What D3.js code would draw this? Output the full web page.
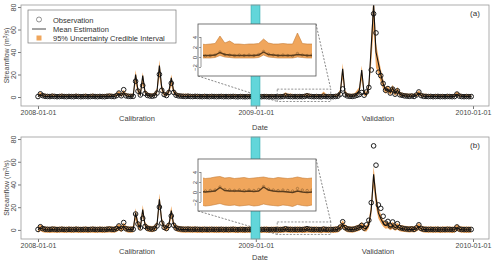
<!DOCTYPE html>
<html>
<head>
<meta charset="utf-8">
<script src="https://cdn.jsdelivr.net/npm/d3@7"></script>
<style>
  body { margin: 0; background: #fff; }
  svg { display: block; font-family: "Liberation Sans", Arial, sans-serif; }
</style>
</head>
<body>
<svg id="chart" width="495" height="261"></svg>
<script>
// observed streamflow, one value every 4 days from 2008-01-01
const obsFlow = [
  0.4,2.8,1.2,0.6,0.5,0.4,0.7,0.5,0.3,0.4,0.6,0.4,0.3,0.5,0.4,0.3,0.6,0.4,0.3,0.4,
  0.5,0.3,0.4,0.6,0.4,0.3,0.5,0.4,0.3,0.6,0.8,0.5,0.4,1.2,3.5,1.1,6.5,1.0,0.6,0.5,
  0.6,14.0,5.2,1.8,10.2,3.1,1.4,0.9,0.7,1.2,3.5,20.1,6.0,2.2,1.3,4.0,12.3,4.1,1.6,1.0,
  0.8,0.6,0.5,0.7,0.5,0.4,0.6,0.5,0.4,0.3,0.5,0.4,0.3,0.5,0.4,0.3,0.4,0.5,0.3,0.4,
  0.3,0.4,0.5,0.3,0.2,0.4,0.3,0.2,0.3,0.4,0.3,0.2,0.3,0.2,0.3,0.4,0.3,0.2,0.3,0.2,
  0.3,0.2,0.3,0.4,1.0,0.5,0.4,0.3,0.4,0.3,0.4,0.3,0.5,1.1,0.6,0.4,0.3,0.4,0.3,0.2,
  0.7,0.4,0.3,0.4,0.3,0.5,0.8,2.5,7.2,2.0,0.9,0.6,0.5,0.8,1.5,2.2,4.0,1.6,4.5,8.5,
  24.0,74.0,57.0,22.0,19.0,12.0,6.0,7.5,3.5,7.0,2.5,5.5,2.0,1.5,1.0,0.8,0.6,0.9,0.5,1.8,
  4.5,1.2,0.6,0.5,0.4,0.5,0.3,0.4,0.5,0.3,0.4,0.3,0.5,0.4,0.3,0.4,2.6,0.8,0.4,0.3,0.4,0.3,0.4
]

// panel (a)
const meanA = [
  0.3,2.0,1.0,0.5,0.4,0.3,0.5,0.4,0.3,0.3,0.4,0.3,0.3,0.4,0.3,0.3,0.4,0.3,0.3,0.3,
  0.4,0.3,0.3,0.4,0.3,0.3,0.4,0.3,0.3,0.4,0.6,0.4,0.4,1.0,3.0,1.0,4.0,1.0,0.5,0.5,
  0.8,20.0,6.0,2.0,19.0,4.0,1.5,1.0,0.8,1.5,5.0,28.0,8.0,2.5,1.5,5.0,17.0,5.0,1.8,1.0,
  0.7,0.5,0.5,0.5,0.4,0.4,0.4,0.4,0.3,0.3,0.4,0.3,0.3,0.4,0.3,0.3,0.3,0.4,0.3,0.3,
  0.3,0.3,0.4,0.3,0.3,0.3,0.3,0.3,0.3,0.3,0.3,0.3,0.3,0.3,0.3,0.3,0.3,0.3,0.3,0.3,
  0.3,0.3,0.3,0.4,0.9,0.5,0.4,0.3,0.3,0.3,0.3,0.3,0.4,1.0,0.5,0.4,0.3,0.3,0.3,0.3,
  0.5,0.4,0.3,0.3,0.3,0.4,0.8,4.0,25.0,3.0,1.0,0.7,0.6,1.0,3.0,6.0,24.0,3.0,2.0,10.0,
  45.0,82.0,40.0,30.0,20.0,12.0,6.0,7.0,4.0,8.0,3.0,6.0,2.5,1.5,1.0,0.8,0.7,0.8,0.6,1.5,
  3.5,1.2,0.6,0.5,0.4,0.4,0.3,0.4,0.4,0.3,0.3,0.3,0.4,0.3,0.3,0.3,2.5,0.8,0.4,0.3,0.3,0.3,0.3
]
const upperA = [
  2.7,4.5,3.2,2.8,2.7,2.6,2.9,2.7,2.6,2.7,2.8,2.6,2.6,2.7,2.6,2.6,2.8,2.6,2.6,2.7,
  2.8,2.6,2.7,2.8,2.6,2.6,2.7,2.6,2.6,2.8,3.0,2.8,2.7,3.6,5.5,3.4,6.5,3.3,2.9,2.8,
  3.2,24.0,9.0,4.5,22.0,6.5,4.0,3.4,3.1,4.0,8.0,33.0,11.0,5.0,4.0,7.5,20.0,7.5,4.2,3.3,
  3.0,2.9,2.8,2.8,2.7,2.7,2.7,2.7,2.6,2.6,2.7,2.6,2.6,2.7,2.6,2.6,2.6,2.7,2.6,2.6,
  2.6,2.6,2.7,2.6,2.6,2.6,2.6,2.6,2.5,2.6,2.6,2.5,2.6,2.6,2.5,2.6,2.6,2.5,2.6,2.5,
  2.6,2.5,2.6,2.7,4.2,2.8,3.2,2.6,2.6,2.5,2.6,2.6,2.7,3.6,2.8,2.6,2.6,2.7,2.6,2.6,
  4.8,2.7,2.6,2.6,2.6,2.7,3.2,7.0,30.0,6.0,3.4,3.0,2.9,3.4,6.0,9.0,28.0,6.0,4.5,14.0,
  52.0,95.0,48.0,36.0,25.0,16.0,9.0,10.0,6.5,11.0,5.5,9.0,4.8,3.8,3.3,3.1,2.9,3.0,2.8,3.8,
  6.0,3.5,2.9,2.8,2.7,2.7,2.6,2.7,2.7,2.6,2.6,2.6,2.7,2.6,2.6,2.6,5.0,3.2,2.7,2.6,2.6,2.6,2.6
]
const lowerA = [
  -0.1,1.0,0.3,0.0,-0.1,-0.1,0.0,-0.1,-0.2,-0.1,0.0,-0.1,-0.2,-0.1,-0.1,-0.2,0.0,-0.1,-0.2,-0.1,
  0.0,-0.1,-0.1,0.0,-0.1,-0.2,0.0,-0.1,-0.2,0.0,0.1,0.0,-0.1,0.4,1.5,0.3,2.0,0.4,0.1,0.0,
  0.2,12.0,3.0,0.8,11.0,2.0,0.6,0.3,0.2,0.6,2.5,18.0,4.0,1.0,0.6,2.5,10.0,2.5,0.7,0.3,
  0.1,0.0,0.0,0.0,-0.1,-0.1,-0.1,-0.1,-0.2,-0.2,-0.1,-0.2,-0.2,-0.1,-0.2,-0.2,-0.2,-0.1,-0.2,-0.2,
  -0.2,-0.2,-0.1,-0.2,-0.2,-0.2,-0.2,-0.2,-0.2,-0.2,-0.2,-0.2,-0.2,-0.2,-0.2,-0.2,-0.2,-0.2,-0.2,-0.2,
  -0.2,-0.2,-0.2,-0.1,0.3,0.0,-0.1,-0.2,-0.2,-0.2,-0.2,-0.2,-0.1,0.4,0.0,-0.1,-0.2,-0.2,-0.2,-0.2,
  0.0,-0.1,-0.2,-0.2,-0.2,-0.1,0.2,1.8,16.0,1.2,0.3,0.1,0.0,0.3,1.2,3.0,15.0,1.2,0.8,5.0,
  30.0,60.0,26.0,20.0,13.0,7.0,3.0,4.0,1.8,4.5,1.2,3.0,0.9,0.4,0.2,0.1,0.1,0.1,0.0,0.5,
  1.5,0.3,0.0,0.0,-0.1,-0.1,-0.2,-0.1,-0.1,-0.2,-0.2,-0.2,-0.1,-0.2,-0.2,-0.2,1.0,0.2,-0.1,-0.2,-0.2,-0.2,-0.2
]

// panel (b)
const meanB = [
  0.1,1.8,0.8,0.3,0.2,0.1,0.3,0.2,0.1,0.1,0.2,0.1,0.1,0.2,0.1,0.1,0.2,0.1,0.1,0.1,
  0.2,0.1,0.1,0.2,0.1,0.1,0.2,0.1,0.1,0.2,0.4,0.2,0.2,0.8,2.5,0.8,3.5,0.8,0.3,0.3,
  0.5,15.0,5.0,1.8,18.0,4.0,1.3,0.8,0.6,1.3,4.5,27.0,7.5,2.2,1.3,4.5,17.0,4.5,1.5,0.8,
  0.5,0.3,0.3,0.3,0.2,0.2,0.2,0.2,0.1,0.1,0.2,0.1,0.1,0.2,0.1,0.1,0.1,0.2,0.1,0.1,
  0.1,0.1,0.2,0.1,0.0,0.1,0.0,0.0,0.1,0.1,0.0,0.0,0.1,0.0,0.0,0.1,0.0,0.0,0.1,0.0,
  0.1,0.0,0.1,0.2,0.9,0.3,0.2,0.2,0.2,0.1,0.2,0.1,0.2,1.0,0.4,0.2,0.1,0.1,0.0,-0.1,
  0.2,0.0,-0.1,0.0,0.0,0.1,0.5,2.0,5.0,1.8,0.7,0.4,0.3,0.6,1.2,2.0,3.5,1.4,1.2,5.0,
  18.0,49.0,28.0,15.0,10.0,6.0,4.0,4.5,2.5,4.0,2.0,3.0,1.6,1.1,0.8,0.6,0.5,0.6,0.4,1.2,
  3.0,1.0,0.4,0.3,0.2,0.3,0.1,0.2,0.2,0.1,0.1,0.1,0.2,0.1,0.1,0.1,2.0,0.6,0.2,0.1,0.1,0.1,0.1
]
const upperB = [
  2.9,4.6,3.6,3.0,2.8,2.7,3.0,2.9,2.7,2.8,2.9,2.7,2.8,2.9,2.7,2.8,2.9,2.7,2.8,2.8,
  3.0,2.8,2.7,2.9,2.8,2.7,2.9,2.8,2.7,2.9,3.2,2.9,3.0,3.6,5.5,3.6,6.5,3.6,3.1,3.0,
  3.4,19.0,8.0,4.6,22.0,7.0,4.2,3.6,3.4,4.2,7.5,32.0,11.0,5.0,4.2,7.5,21.0,7.5,4.3,3.6,
  3.3,3.1,3.0,3.1,2.9,2.9,3.0,2.8,2.8,2.9,2.8,2.7,2.9,2.8,2.7,2.9,2.8,2.7,2.8,2.8,
  2.8,2.7,2.9,2.8,2.7,2.8,2.9,2.7,2.8,2.9,2.7,2.8,2.9,2.7,2.8,2.7,2.9,2.8,2.7,2.8,
  2.9,2.7,2.8,3.0,3.1,2.8,2.9,2.7,2.8,2.9,2.7,2.8,2.9,3.0,2.8,2.7,2.9,2.8,2.7,2.8,
  3.0,2.8,2.7,2.8,2.7,2.9,3.3,5.0,8.5,4.8,3.5,3.2,3.1,3.4,4.2,5.0,7.0,4.4,4.2,8.5,
  24.0,56.0,34.0,20.0,14.0,9.0,7.0,7.5,5.5,7.0,5.0,6.0,4.5,4.0,3.6,3.4,3.3,3.4,3.2,4.2,
  6.0,3.9,3.2,3.1,3.0,3.1,2.9,3.0,3.0,2.8,2.9,2.9,3.0,2.9,2.8,2.9,5.0,3.5,3.0,2.9,2.8,2.9,2.8
]
const lowerB = [
  -2.6,-1.0,-2.0,-2.5,-2.6,-2.7,-2.5,-2.6,-2.8,-2.6,-2.5,-2.7,-2.6,-2.5,-2.7,-2.6,-2.5,-2.7,-2.6,-2.7,
  -2.5,-2.7,-2.6,-2.5,-2.7,-2.6,-2.5,-2.7,-2.6,-2.5,-2.3,-2.5,-2.6,-1.8,-0.5,-1.9,0.5,-1.9,-2.4,-2.5,
  -2.2,9.0,1.5,-1.0,12.0,1.0,-1.3,-1.9,-2.1,-1.3,1.5,20.0,4.0,-0.6,-1.3,1.5,11.0,1.5,-1.2,-1.9,
  -2.2,-2.4,-2.5,-2.4,-2.6,-2.5,-2.6,-2.7,-2.6,-2.7,-2.5,-2.7,-2.6,-2.5,-2.7,-2.6,-2.8,-2.6,-2.7,-2.6,
  -2.7,-2.6,-2.5,-2.7,-2.8,-2.6,-2.7,-2.8,-2.6,-2.7,-2.8,-2.7,-2.6,-2.8,-2.7,-2.6,-2.8,-2.7,-2.6,-2.8,
  -2.6,-2.8,-2.7,-2.5,-2.3,-2.6,-2.7,-2.6,-2.8,-2.7,-2.6,-2.8,-2.7,-2.4,-2.6,-2.7,-2.8,-2.6,-2.7,-2.9,
  -2.5,-2.7,-2.8,-2.6,-2.7,-2.6,-2.2,-0.8,2.0,-0.9,-2.0,-2.3,-2.4,-2.1,-1.4,-0.8,1.0,-1.3,-1.5,2.0,
  12.0,38.0,20.0,10.0,6.0,3.0,1.0,1.5,-0.3,1.0,-0.8,0.2,-1.1,-1.6,-1.9,-2.1,-2.2,-2.1,-2.3,-1.5,
  0.0,-1.7,-2.3,-2.4,-2.5,-2.4,-2.6,-2.5,-2.5,-2.7,-2.6,-2.6,-2.5,-2.6,-2.7,-2.6,-0.8,-2.1,-2.5,-2.6,-2.7,-2.6,-2.7
]

const tickDates = ['2008-01-01', '2009-01-01', '2010-01-01']
const yTicks = [0, 20, 40, 60, 80]
const insetTicks = [4, 2, 0, -2]
const legendLabels = ['Observation', 'Mean Estimation', '95% Uncertainty Credible Interval']
const periodLabels = [['Calibration', 137], ['Validation', 378]]
const zoomWindow = ['2009-02-06', '2009-05-07']   // dashed zoom box dates
const zoomRange = [-4, 7]                          // dashed zoom box flow range
const splitBand = ['2008-12-24', '2009-01-08']     // cyan band round the split date

const parse = d3.timeParse('%Y-%m-%d')
const start = parse('2008-01-01')
const dates = obsFlow.map((_, i) => d3.timeDay.offset(start, 4 * i))

const svg = d3.select('#chart')
const bandFill = '#f0a65c'

function drawPanel(cfg) {
  const { top, bottom, id } = cfg
  const g = svg.append('g')
  const x = d3.scaleTime().domain([parse(tickDates[0]), parse(tickDates[2])]).range([38, 473])
  const y = d3.scaleLinear().domain([-8, 81.8]).range([bottom, top])
  const rows = dates.map((d, i) => ({ date: d, obs: obsFlow[i], mean: cfg.mean[i], lo: cfg.lower[i], hi: cfg.upper[i] }))

  svg.append('clipPath').attr('id', 'clip' + id)
    .append('rect').attr('x', 21).attr('y', top).attr('width', 468).attr('height', bottom - top)

  const plot = g.append('g').attr('clip-path', `url(#clip${id})`)
  plot.append('path').datum(rows)
    .attr('fill', bandFill)
    .attr('d', d3.area().x(d => x(d.date)).y0(d => y(d.lo)).y1(d => y(d.hi)))
  plot.append('g').selectAll('circle').data(rows).join('circle')
    .attr('cx', d => x(d.date)).attr('cy', d => y(d.obs)).attr('r', 2.3)
    .attr('fill', 'none').attr('stroke', '#1e1e1e').attr('stroke-width', 1)
  plot.append('path').datum(rows)
    .attr('fill', 'none').attr('stroke', '#111').attr('stroke-width', 1.1)
    .attr('d', d3.line().x(d => x(d.date)).y(d => y(d.mean)))

  // zoom box + connectors
  const zx0 = x(parse(zoomWindow[0])), zx1 = x(parse(zoomWindow[1]))
  const zy0 = y(zoomRange[1]), zy1 = y(zoomRange[0])
  g.append('rect').attr('x', zx0).attr('y', zy0).attr('width', zx1 - zx0).attr('height', zy1 - zy0)
    .attr('fill', 'none').attr('stroke', '#666').attr('stroke-width', 0.7).attr('stroke-dasharray', '2,1.5')
  const ins = { x0: 198, x1: 316, y0: cfg.insetTop, y1: cfg.insetBottom }
  g.append('line').attr('x1', ins.x0).attr('y1', ins.y1).attr('x2', zx0).attr('y2', zy1)
    .attr('stroke', '#555').attr('stroke-width', 0.7).attr('stroke-dasharray', '2,1.5')
  g.append('line').attr('x1', ins.x1).attr('y1', ins.y0).attr('x2', zx1).attr('y2', zy0)
    .attr('stroke', '#555').attr('stroke-width', 0.7).attr('stroke-dasharray', '2,1.5')

  // cyan split band
  const cx0 = x(parse(splitBand[0])), cx1 = x(parse(splitBand[1]))
  g.append('rect').attr('x', cx0).attr('y', top).attr('width', cx1 - cx0).attr('height', bottom - top)
    .attr('fill', '#62d6da').attr('stroke', '#2fa9ad').attr('stroke-width', 0.6)

  // inset
  g.append('rect').attr('x', ins.x0).attr('y', ins.y0).attr('width', ins.x1 - ins.x0).attr('height', ins.y1 - ins.y0)
    .attr('fill', '#fff').attr('stroke', '#555').attr('stroke-width', 0.8)
  const ix = d3.scaleTime().domain([parse(zoomWindow[0]), parse(zoomWindow[1])]).range([203, 312])
  const iy = d3.scaleLinear().domain([-3.8, 6.6]).range([ins.y1, ins.y0])
  svg.append('clipPath').attr('id', 'iclip' + id)
    .append('rect').attr('x', 203).attr('y', ins.y0 + 1).attr('width', 109).attr('height', ins.y1 - ins.y0 - 2)
  const ip = g.append('g').attr('clip-path', `url(#iclip${id})`)
  ip.append('path').datum(rows)
    .attr('fill', bandFill).attr('stroke', '#c47a34').attr('stroke-width', 0.6)
    .attr('d', d3.area().x(d => ix(d.date)).y0(d => iy(d.lo)).y1(d => iy(d.hi)))
  ip.append('g').selectAll('circle').data(rows).join('circle')
    .attr('cx', d => ix(d.date)).attr('cy', d => iy(d.obs)).attr('r', 1.2)
    .attr('fill', 'none').attr('stroke', '#4a3318').attr('stroke-width', 0.5).attr('opacity', 0.7)
  ip.append('path').datum(rows)
    .attr('fill', 'none').attr('stroke', '#5a3d1e').attr('stroke-width', 1.4)
    .attr('d', d3.line().x(d => ix(d.date)).y(d => iy(d.mean)))
  const iax = g.append('g').attr('transform', 'translate(201,0)')
    .call(d3.axisLeft(iy).tickValues(insetTicks).tickSize(2).tickFormat(d3.format('d')))
  iax.select('.domain').remove()
  iax.append('line').attr('y1', iy(-2)).attr('y2', iy(4)).attr('stroke', '#555').attr('stroke-width', 0.6)
  iax.selectAll('.tick line').attr('stroke', '#555').attr('stroke-width', 0.6)
  iax.selectAll('.tick text').attr('x', 0).attr('y', -4).attr('dy', 0)
    .attr('transform', 'rotate(-90)').attr('text-anchor', 'middle')
    .attr('font-size', 6).attr('fill', '#444')

  // axes
  const yax = g.append('g').attr('transform', 'translate(21,0)')
    .call(d3.axisLeft(y).tickValues(yTicks).tickSize(3))
  yax.select('.domain').remove()
  yax.selectAll('.tick line').attr('stroke', '#777')
  yax.selectAll('.tick text').attr('x', 0).attr('y', -5).attr('dy', 0)
    .attr('transform', 'rotate(-90)').attr('text-anchor', 'middle')
    .attr('font-size', 7).attr('fill', '#444')

  const xax = g.append('g').attr('transform', `translate(0,${bottom})`)
    .call(d3.axisBottom(x).tickValues(tickDates.map(parse)).tickSize(3).tickPadding(1)
      .tickFormat(d3.timeFormat('%Y-%m-%d')))
  xax.select('.domain').remove()
  xax.selectAll('.tick line').attr('stroke', '#777')
  xax.selectAll('.tick text').attr('font-size', 7).attr('fill', '#444')

  // frame
  g.append('rect').attr('x', 21).attr('y', top).attr('width', 468).attr('height', bottom - top)
    .attr('fill', 'none').attr('stroke', '#9a9a9a').attr('stroke-width', 0.8)

  g.append('text').attr('x', 475).attr('y', top + 11).attr('text-anchor', 'middle')
    .attr('font-size', 8).attr('fill', '#333').text(cfg.tag)

  periodLabels.forEach(([t, px]) => {
    g.append('text').attr('x', px).attr('y', bottom + 15).attr('text-anchor', 'middle')
      .attr('font-size', 7.5).attr('fill', '#444').text(t)
  })
  g.append('text').attr('x', 260).attr('y', Math.min(bottom + 24, 260)).attr('text-anchor', 'middle')
    .attr('font-size', 7.5).attr('fill', '#444').text('Date')

  const ylab = g.append('text')
    .attr('transform', `translate(9,${(top + bottom) / 2}) rotate(-90)`)
    .attr('text-anchor', 'middle').attr('font-size', 7).attr('fill', '#444')
  ylab.append('tspan').text('Streamflow (m')
  ylab.append('tspan').attr('dy', -2.5).attr('font-size', 5).text('3')
  ylab.append('tspan').attr('dy', 2.5).text('/s)')

  if (cfg.legend) {
    const lg = g.append('g')
    lg.append('rect').attr('x', 28).attr('y', 10).attr('width', 148).attr('height', 33)
      .attr('fill', '#fff').attr('stroke', '#777').attr('stroke-width', 0.7)
    lg.append('circle').attr('cx', 39).attr('cy', 19.5).attr('r', 2.5)
      .attr('fill', 'none').attr('stroke', '#666').attr('stroke-width', 0.7)
    lg.append('line').attr('x1', 32).attr('x2', 46).attr('y1', 29).attr('y2', 29)
      .attr('stroke', '#333').attr('stroke-width', 0.9)
    lg.append('rect').attr('x', 36.5).attr('y', 35.5).attr('width', 5).attr('height', 5).attr('fill', bandFill)
    legendLabels.forEach((t, i) => {
      lg.append('text').attr('x', 53).attr('y', 22.5 + i * 9.2)
        .attr('font-size', 7.5).attr('fill', '#333').text(t)
    })
  }
}

drawPanel({ id: 'A', tag: '(a)', top: 5, bottom: 106, insetTop: 24, insetBottom: 76,
  mean: meanA, lower: lowerA, upper: upperA, legend: true })
drawPanel({ id: 'B', tag: '(b)', top: 137, bottom: 239, insetTop: 159, insetBottom: 211,
  mean: meanB, lower: lowerB, upper: upperB, legend: false })
</script>
</body>
</html>
